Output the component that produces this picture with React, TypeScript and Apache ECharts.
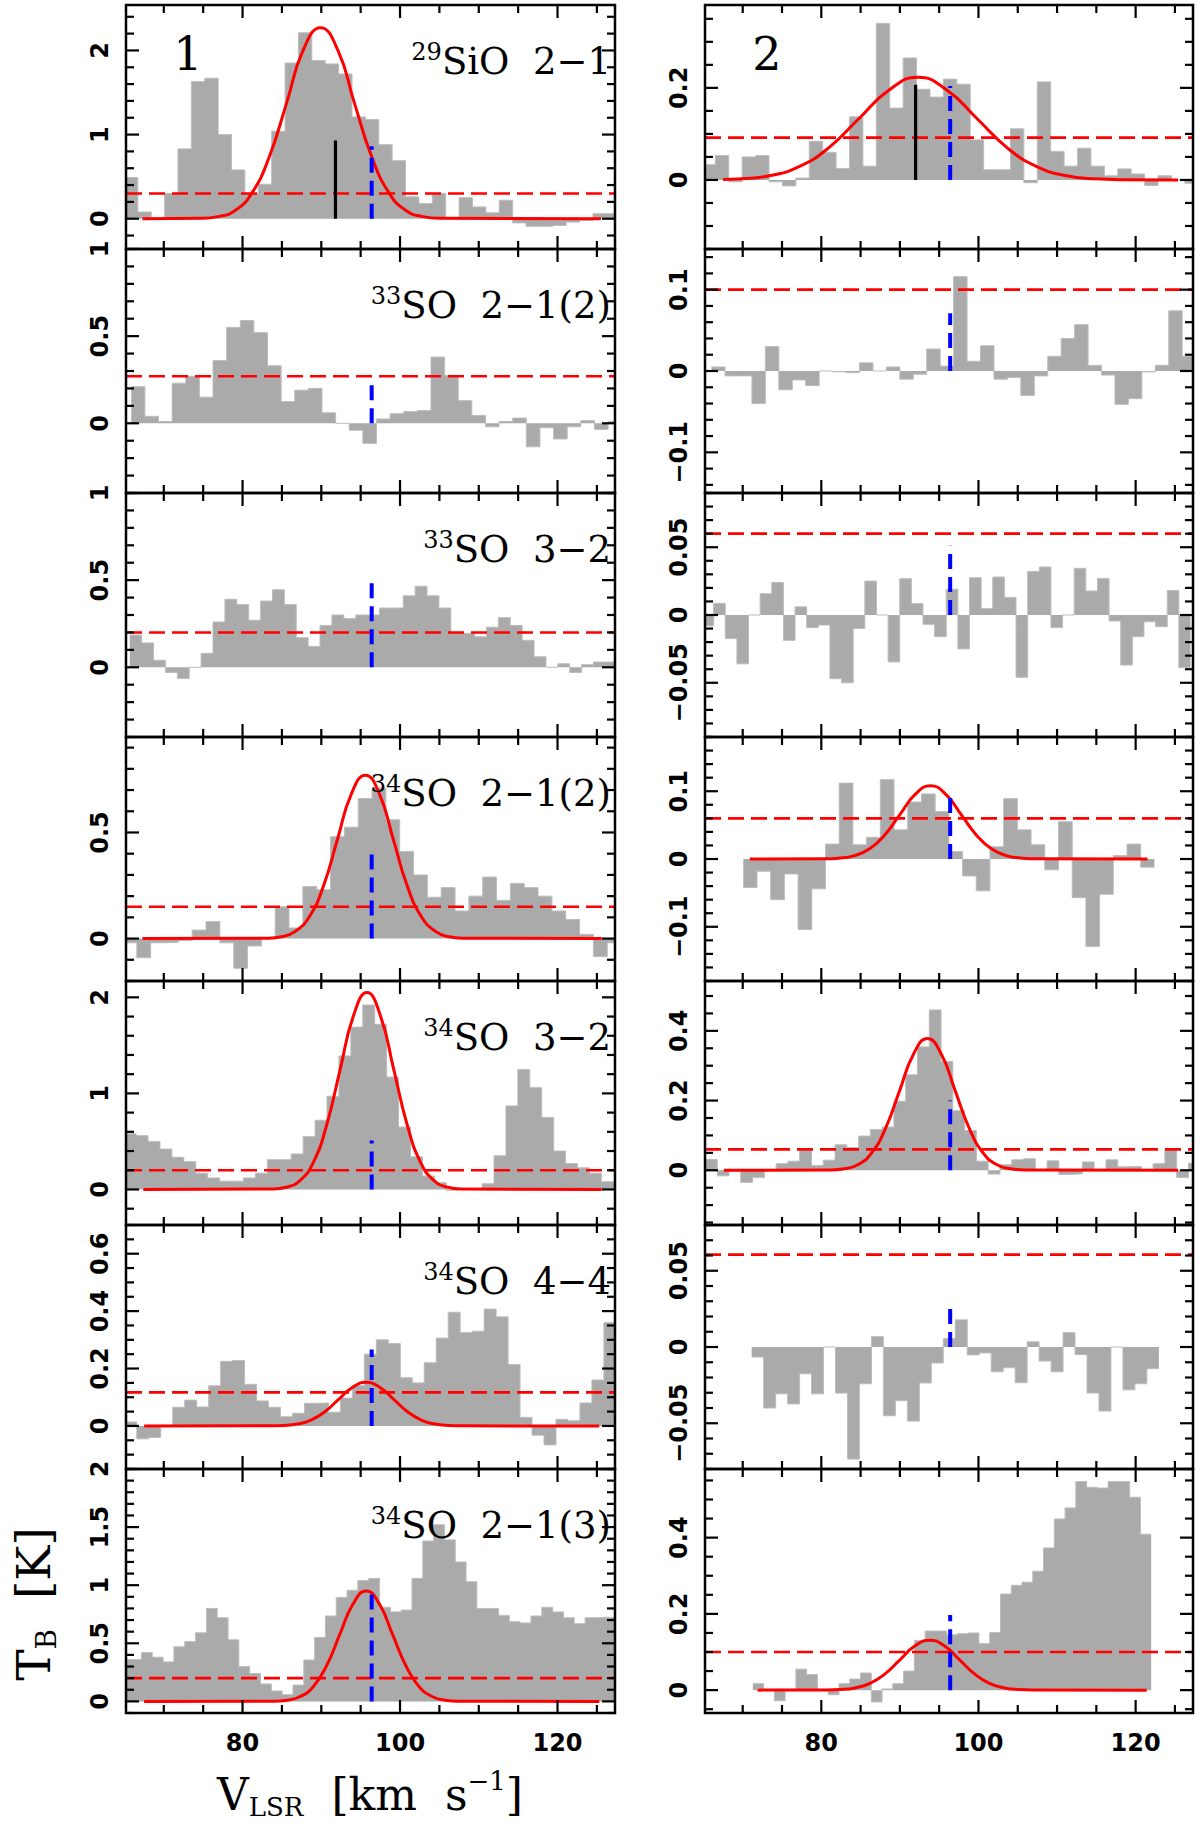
import { useEffect, useRef } from "react";
import * as echarts from "echarts";

// 速度轴（km/s），所有面板共用
const VEL_MIN = 65.2;
const VEL_MAX = 127.3;
const VEL_MAJOR = [80, 100, 120];
const VEL_MINOR = [70, 75, 85, 90, 95, 105, 110, 115, 125];
const V_SYS = 96.4;

// ---- source 1 (left column) ----
// chan = [first channel edge, channel width]
const s1SiO29Chan = [65.0, 1.7];
const s1SiO29Tb = [0.49, 0.08, 0.0, 0.3, 0.83, 1.63, 1.67, 1.0, 0.58, 0.3, 0.41, 1.04, 1.85, 2.21, 1.88, 1.84, 1.72, 1.21, 1.18, 0.88, 0.69, 0.26, 0.18, 0.3, 0.0, 0.25, 0.14, 0.07, 0.22, -0.05, -0.09, -0.09, -0.08, -0.04, -0.02, 0.06, 0.06];
const s1SiO29Fit = [[67.3, 0], [74.7, 0.005], [76.9, 0.025], [79.1, 0.1], [81.2, 0.307], [83.4, 0.737], [85.6, 1.377], [87.7, 2.003], [89.9, 2.27], [92.1, 2.003], [94.2, 1.377], [96.4, 0.737], [98.6, 0.307], [100.7, 0.1], [102.9, 0.025], [105.1, 0.005], [125.5, 0]];

const s1SO33aChan = [65.87, 1.73];
const s1SO33aTb = [0.21, 0.04, 0.01, 0.23, 0.27, 0.15, 0.36, 0.55, 0.59, 0.52, 0.33, 0.125, 0.19, 0.2, 0.06, 0.0, -0.04, -0.115, 0.025, 0.055, 0.067, 0.073, 0.38, 0.275, 0.13, 0.045, -0.02, 0.01, 0.03, -0.135, -0.025, -0.09, -0.02, 0.015, -0.035, 0.01];

const s1SO33bChan = [65.68, 1.51];
const s1SO33bTb = [0.185, 0.14, 0.04, -0.03, -0.065, 0.0, 0.08, 0.26, 0.39, 0.36, 0.27, 0.38, 0.445, 0.36, 0.17, 0.12, 0.24, 0.3, 0.28, 0.3, 0.3, 0.34, 0.34, 0.41, 0.465, 0.41, 0.34, 0.2, 0.195, 0.175, 0.23, 0.285, 0.24, 0.155, 0.06, 0.0, 0.02, -0.03, 0.015, 0.03, 0.03];

const s1SO34aChan = [64.82, 1.757];
const s1SO34aTb = [-0.02, -0.09, -0.02, -0.017, -0.01, 0.04, 0.08, -0.02, -0.14, -0.035, 0.0, 0.15, 0.05, 0.245, 0.23, 0.48, 0.525, 0.66, 0.71, 0.56, 0.41, 0.3, 0.195, 0.24, 0.13, 0.2, 0.29, 0.18, 0.26, 0.24, 0.2, 0.13, 0.09, 0.02, -0.085, -0.02];
const s1SO34aFit = [[67.3, 0], [83.2, 0.0017], [84.95, 0.0085], [86.7, 0.034], [88.5, 0.104], [90.3, 0.25], [92.05, 0.467], [93.8, 0.68], [95.6, 0.77], [97.4, 0.68], [99.15, 0.467], [100.9, 0.25], [102.7, 0.104], [104.5, 0.034], [106.25, 0.0085], [108.0, 0.0017], [125.6, 0]];

const s1SO34bChan = [64.97, 1.515];
const s1SO34bTb = [0.58, 0.56, 0.5, 0.42, 0.335, 0.29, 0.17, 0.12, 0.086, 0.086, 0.12, 0.17, 0.31, 0.31, 0.37, 0.55, 0.72, 0.97, 1.39, 1.69, 1.92, 1.72, 1.17, 0.65, 0.34, 0.14, 0.07, -0.01, 0.0, 0.0, 0.06, 0.35, 0.87, 1.25, 1.06, 0.75, 0.4, 0.27, 0.225, 0.17, 0.08, 0.08];
const s1SO34bFit = [[67.4, 0], [83.83, 0.0045], [85.54, 0.023], [87.25, 0.09], [88.96, 0.277], [90.67, 0.666], [92.38, 1.243], [94.09, 1.809], [95.8, 2.05], [97.51, 1.809], [99.22, 1.243], [100.93, 0.666], [102.64, 0.277], [104.35, 0.09], [106.06, 0.023], [107.77, 0.0045], [125.6, 0]];

const s1SO34cChan = [65.05, 1.521];
const s1SO34cTb = [0.014, -0.045, -0.04, 0.0, 0.065, 0.09, 0.066, 0.14, 0.225, 0.228, 0.145, 0.087, 0.065, 0.032, 0.044, 0.079, 0.08, 0.048, 0.097, 0.14, 0.25, 0.3, 0.287, 0.168, 0.15, 0.22, 0.306, 0.396, 0.325, 0.33, 0.407, 0.38, 0.214, 0.03, -0.032, -0.066, 0.023, 0.018, 0.08, 0.16, 0.36];
const s1SO34cFit = [[67.5, 0], [83.45, 0.0003], [85.2, 0.0017], [86.95, 0.0067], [88.7, 0.0206], [90.45, 0.0494], [92.2, 0.0922], [93.95, 0.134], [95.7, 0.152], [97.45, 0.134], [99.2, 0.0922], [100.95, 0.0494], [102.7, 0.0206], [104.45, 0.0067], [106.2, 0.0017], [107.95, 0.0003], [125.3, 0]];

const s1SO34dChan = [64.42, 1.374];
const s1SO34dTb = [0.36, 0.36, 0.42, 0.38, 0.34, 0.47, 0.515, 0.59, 0.8, 0.72, 0.53, 0.3, 0.24, 0.15, 0.09, 0.058, 0.14, 0.356, 0.55, 0.735, 0.895, 0.956, 1.04, 1.058, 0.81, 0.77, 0.786, 1.058, 1.38, 1.52, 1.39, 1.2, 1.03, 0.8, 0.8, 0.74, 0.685, 0.675, 0.735, 0.81, 0.77, 0.72, 0.668, 0.72, 0.725, 0.72];
const s1SO34dFit = [[67.5, 0], [83.98, 0.0021], [85.65, 0.0105], [87.33, 0.0417], [89.0, 0.1285], [90.68, 0.3085], [92.35, 0.576], [94.03, 0.838], [95.7, 0.95], [97.38, 0.838], [99.05, 0.576], [100.73, 0.3085], [102.4, 0.1285], [104.08, 0.0417], [105.75, 0.0105], [107.43, 0.0021], [125.3, 0]];

const s1Rms = [0.3, 0.27, 0.2, 0.15, 0.2, 0.117, 0.2];
const s1VsysTop = [0.86, 0.24, 0.5, 0.4, 0.51, 0.266, 0.93];
const s1Peak = [91.8, 0.93]; // black marker in panel 1

// ---- source 2 (right column) ----
const s2SiO29Chan = [64.81, 1.707];
const s2SiO29Tb = [0.033, 0.053, -0.004, 0.05, 0.053, -0.004, -0.013, 0.004, 0.084, 0.06, 0.025, 0.137, 0.03, 0.34, 0.156, 0.265, 0.197, 0.18, 0.219, 0.208, 0.087, 0.022, 0.022, 0.111, -0.006, 0.213, 0.062, 0.03, 0.069, 0.03, 0.009, 0.024, 0.013, -0.012, 0.009, 0.0, -0.007];
const s2SiO29Fit = [[67.5, 0.0009], [69.8, 0.0024], [73.55, 0.0097], [77.3, 0.0298], [81.05, 0.0714], [84.8, 0.1334], [88.55, 0.1942], [92.3, 0.223], [96.05, 0.1942], [99.8, 0.1334], [103.55, 0.0714], [107.3, 0.0298], [111.05, 0.0097], [114.8, 0.0024], [118.55, 0.0005], [125.4, 0]];

const s2SO33aChan = [66.04, 1.711];
const s2SO33aTb = [0.005, -0.006, -0.006, -0.04, 0.03, -0.023, -0.011, -0.018, 0.0, -0.001, -0.002, 0.01, 0.0, 0.005, -0.01, -0.004, 0.027, 0.006, 0.116, 0.012, 0.031, -0.01, -0.008, -0.03, -0.006, 0.018, 0.04, 0.057, 0.007, -0.005, -0.041, -0.034, -0.001, 0.007, 0.074, 0.018];

const s2SO33bChan = [64.82, 1.48];
const s2SO33bTb = [-0.008, 0.0086, -0.0174, -0.036, 0.0, 0.0157, 0.024, -0.0187, 0.006, -0.0093, -0.0074, -0.047, -0.05, -0.01, 0.025, 0.0, -0.0346, 0.0268, 0.0084, -0.0069, -0.016, 0.019, -0.025, 0.0275, 0.0047, 0.028, 0.013, -0.046, 0.032, 0.0354, -0.0093, 0.0, 0.0344, 0.0177, 0.027, -0.0044, -0.0369, -0.016, -0.005, -0.0086, 0.018, -0.0388];

const s2SO34aChan = [70.07, 1.744];
const s2SO34aTb = [-0.042, -0.018, -0.06, -0.022, -0.104, -0.044, 0.022, 0.112, 0.021, 0.032, 0.117, 0.043, 0.084, 0.096, 0.07, 0.011, -0.025, -0.047, 0.018, 0.089, 0.043, 0.021, -0.016, 0.055, -0.057, -0.129, -0.052, 0.005, 0.022, -0.012];
const s2SO34aFit = [[70.9, 0], [80.25, 0.0002], [82.2, 0.0012], [84.15, 0.0047], [86.1, 0.0146], [88.05, 0.0351], [90.0, 0.0655], [91.95, 0.0953], [93.9, 0.108], [95.85, 0.0953], [97.8, 0.0655], [99.75, 0.0351], [101.7, 0.0146], [103.65, 0.0047], [105.6, 0.0012], [107.55, 0.0002], [121.5, 0]];

const s2SO34bChan = [65.26, 1.499];
const s2SO34bTb = [0.031, -0.016, 0.0, -0.035, -0.021, 0.0, 0.019, 0.026, 0.057, 0.014, 0.029, 0.073, 0.065, 0.098, 0.117, 0.124, 0.198, 0.274, 0.354, 0.46, 0.312, 0.171, 0.114, 0.026, -0.011, 0.016, 0.03, 0.033, 0.0, 0.027, -0.012, -0.01, 0.024, 0.0, 0.03, 0.01, 0.011, 0.0, 0.019, 0.059, -0.021, 0.02];
const s2SO34bFit = [[67.6, 0], [81.18, 0.0008], [82.94, 0.0042], [84.7, 0.0166], [86.46, 0.0511], [88.22, 0.1227], [89.98, 0.2293], [91.74, 0.3336], [93.5, 0.378], [95.26, 0.3336], [97.02, 0.2293], [98.78, 0.1227], [100.54, 0.0511], [102.3, 0.0166], [104.06, 0.0042], [105.82, 0.0008], [125.4, 0]];

const s2SO34cChan = [71.14, 1.524];
const s2SO34cTb = [-0.0066, -0.04, -0.0307, -0.0373, -0.0176, -0.0307, 0.0, -0.0302, -0.0735, -0.0241, 0.0068, -0.0451, -0.0352, -0.0486, -0.0236, -0.0105, 0.0055, 0.0178, -0.0052, -0.0039, -0.0163, -0.0136, -0.0234, 0.0034, -0.0092, -0.0163, 0.0094, -0.005, -0.0302, -0.042, 0.0, -0.0281, -0.0241, -0.0142];

const s2SO34dChan = [71.29, 1.37];
const s2SO34dTb = [0.017, 0.0, -0.028, 0.0, 0.055, 0.041, 0.0, -0.012, 0.017, 0.029, 0.045, -0.031, 0.003, 0.017, 0.05, 0.13, 0.155, 0.155, 0.145, 0.148, 0.15, 0.122, 0.151, 0.252, 0.275, 0.283, 0.312, 0.373, 0.449, 0.478, 0.547, 0.532, 0.53, 0.547, 0.547, 0.506, 0.409];
const s2SO34dFit = [[71.9, 0], [80.5, 0.0003], [82.4, 0.0015], [84.3, 0.0058], [86.2, 0.0177], [88.1, 0.0425], [90.0, 0.0795], [91.9, 0.1156], [93.8, 0.131], [95.7, 0.1156], [97.6, 0.0795], [99.5, 0.0425], [101.4, 0.0177], [103.3, 0.0058], [105.2, 0.0015], [107.1, 0.0003], [121.4, 0]];

const s2Rms = [0.092, 0.1, 0.06, 0.06, 0.06, 0.0606, 0.1];
const s2VsysTop = [0.204, 0.071, 0.051, 0.1, 0.2, 0.03, 0.197];
const s2Peak = [92.0, 0.207];

const LINE_ISO = ["29", "33", "33", "34", "34", "34", "34"];
const LINE_NAME = ["SiO\u00a0\u00a02\u22121", "SO\u00a0\u00a02\u22121(2)", "SO\u00a0\u00a03\u22122", "SO\u00a0\u00a02\u22121(2)", "SO\u00a0\u00a03\u22122", "SO\u00a0\u00a04\u22124", "SO\u00a0\u00a02\u22121(3)"];

// y axis: [min, max, major step, minor step]
const Y_AXES_1 = [[-0.36, 2.54, 1, 0.2], [-0.4, 1.0, 0.5, 0.1], [-0.4, 1.0, 0.5, 0.1], [-0.2, 0.95, 0.5, 0.1], [-0.37, 2.17, 1, 0.2], [-0.15, 0.7, 0.2, 0.05], [-0.1, 2.0, 0.5, 0.1]];
const Y_AXES_2 = [[-0.15, 0.38, 0.2, 0.05], [-0.15, 0.15, 0.1, 0.02], [-0.09, 0.09, 0.05, 0.01], [-0.18, 0.18, 0.1, 0.02], [-0.157, 0.543, 0.2, 0.05], [-0.08, 0.08, 0.05, 0.01], [-0.06, 0.58, 0.2, 0.05]];

type Panel = {
  col: number;
  row: number;
  chan: number[];
  tb: number[];
  fit?: number[][];
  rms: number;
  vsysTop: number;
  peak?: number[];
  y: number[];
};

const S1 = [
  [s1SiO29Chan, s1SiO29Tb, s1SiO29Fit],
  [s1SO33aChan, s1SO33aTb, undefined],
  [s1SO33bChan, s1SO33bTb, undefined],
  [s1SO34aChan, s1SO34aTb, s1SO34aFit],
  [s1SO34bChan, s1SO34bTb, s1SO34bFit],
  [s1SO34cChan, s1SO34cTb, s1SO34cFit],
  [s1SO34dChan, s1SO34dTb, s1SO34dFit],
];
const S2 = [
  [s2SiO29Chan, s2SiO29Tb, s2SiO29Fit],
  [s2SO33aChan, s2SO33aTb, undefined],
  [s2SO33bChan, s2SO33bTb, undefined],
  [s2SO34aChan, s2SO34aTb, s2SO34aFit],
  [s2SO34bChan, s2SO34bTb, s2SO34bFit],
  [s2SO34cChan, s2SO34cTb, undefined],
  [s2SO34dChan, s2SO34dTb, s2SO34dFit],
];

const PANELS: Panel[] = [
  ...S1.map((s, i) => ({ col: 0, row: i, chan: s[0] as number[], tb: s[1] as number[], fit: s[2] as number[][] | undefined, rms: s1Rms[i], vsysTop: s1VsysTop[i], peak: i === 0 ? s1Peak : undefined, y: Y_AXES_1[i] })),
  ...S2.map((s, i) => ({ col: 1, row: i, chan: s[0] as number[], tb: s[1] as number[], fit: s[2] as number[][] | undefined, rms: s2Rms[i], vsysTop: s2VsysTop[i], peak: i === 0 ? s2Peak : undefined, y: Y_AXES_2[i] })),
];

// layout
const COL_X = [126, 705];
const COL_W = [489, 488];
const ROW_TOP = 5;
const ROW_H = 244;
const TICK_FONT = "'DejaVu Sans', sans-serif";
const TEXT_FONT = "'DejaVu Serif', serif";
const GREY = "#aaaaaa";
const MAJOR_LEN = 13;
const MINOR_LEN = 8;

function stepData(chan: number[], tb: number[]) {
  const [x0, dv] = chan;
  const pts = tb.map((v, i) => [x0 + i * dv, v]);
  pts.push([x0 + tb.length * dv, tb[tb.length - 1]]);
  return pts;
}

function tickList(min: number, max: number, step: number) {
  const out: number[] = [];
  for (let k = Math.ceil(min / step - 1e-9); k * step <= max + 1e-9; k++) out.push(+(k * step).toFixed(4));
  return out;
}

const fmt = (v: number | string) => {
  const r = Math.round(Number(v) * 1e4) / 1e4;
  return r < 0 ? "\u2212" + String(-r) : String(r);
};

// inward ticks on all four sides, placed through the panel's own axes
function tickSeries(g: number, yMin: number, yMax: number, yMaj: number[], yMnr: number[]) {
  const data = [
    ...VEL_MAJOR.map((v) => [v, 0]),
    ...VEL_MINOR.map((v) => [v, 1]),
    ...yMaj.map((v) => [v, 2]),
    ...yMnr.map((v) => [v, 3]),
  ];
  const style = { stroke: "#000", lineWidth: 2.2 };
  return {
    type: "custom",
    xAxisIndex: g,
    yAxisIndex: g,
    silent: true,
    clip: false,
    z: 20,
    data,
    renderItem: (_p: unknown, api: any) => {
      const v = api.value(0) as number;
      const kind = api.value(1) as number;
      const len = kind % 2 === 0 ? MAJOR_LEN : MINOR_LEN;
      if (kind < 2) {
        const b = api.coord([v, yMin]);
        const t = api.coord([v, yMax]);
        return {
          type: "group",
          children: [
            { type: "line", shape: { x1: b[0], y1: b[1], x2: b[0], y2: b[1] - len }, style },
            { type: "line", shape: { x1: t[0], y1: t[1], x2: t[0], y2: t[1] + len }, style },
          ],
        };
      }
      const l = api.coord([VEL_MIN, v]);
      const r = api.coord([VEL_MAX, v]);
      return {
        type: "group",
        children: [
          { type: "line", shape: { x1: l[0], y1: l[1], x2: l[0] + len, y2: l[1] }, style },
          { type: "line", shape: { x1: r[0], y1: r[1], x2: r[0] - len, y2: r[1] }, style },
        ],
      };
    },
  };
}

function buildOption() {
  const grid: object[] = [];
  const xAxis: object[] = [];
  const yAxis: object[] = [];
  const series: object[] = [];
  const graphic: object[] = [];

  PANELS.forEach((p, g) => {
    const left = COL_X[p.col];
    const width = COL_W[p.col];
    const top = ROW_TOP + p.row * ROW_H;
    grid.push({ left, top, width, height: ROW_H });

    xAxis.push({
      type: "value",
      gridIndex: g,
      position: "bottom",
      min: VEL_MIN,
      max: VEL_MAX,
      axisLine: { show: false, onZero: false },
      axisTick: { show: false },
      splitLine: { show: false },
      axisLabel:
        p.row === 6
          ? { show: true, customValues: VEL_MAJOR, margin: 18, fontSize: 24, fontWeight: "bold", fontFamily: TICK_FONT, color: "#000" }
          : { show: false },
    });

    const [ymin, ymax, ymaj, ymnr] = p.y;
    const maj = tickList(ymin, ymax, ymaj);
    const mnr = tickList(ymin, ymax, ymnr).filter((v) => !maj.some((m) => Math.abs(m - v) < 1e-6));
    yAxis.push({
      type: "value",
      gridIndex: g,
      position: "left",
      min: ymin,
      max: ymax,
      axisLine: { show: false, onZero: false },
      axisTick: { show: false },
      splitLine: { show: false },
      axisLabel: { show: true, customValues: maj, formatter: fmt, rotate: 90, margin: 14, fontSize: 24, fontWeight: "bold", fontFamily: TICK_FONT, color: "#000" },
    });

    const ax = { xAxisIndex: g, yAxisIndex: g, silent: true, showSymbol: false, symbol: "none" };
    series.push({
      ...ax,
      type: "line",
      step: "end",
      data: stepData(p.chan, p.tb),
      lineStyle: { color: "#bdbdbd", width: 1 },
      areaStyle: { color: GREY, opacity: 1 },
      z: 2,
    });
    series.push({
      ...ax,
      type: "line",
      data: [[VEL_MIN, p.rms], [VEL_MAX, p.rms]],
      lineStyle: { color: "#ff0000", width: 2.6, type: [16, 7] },
      z: 3,
    });
    if (p.fit) {
      series.push({
        ...ax,
        type: "line",
        data: p.fit,
        smooth: 0.5,
        lineStyle: { color: "#ff0000", width: 3 },
        z: 4,
      });
    }
    if (p.peak) {
      series.push({
        ...ax,
        type: "line",
        data: [[p.peak[0], 0], [p.peak[0], p.peak[1]]],
        lineStyle: { color: "#000", width: 3.2 },
        z: 5,
      });
    }
    series.push({
      ...ax,
      type: "line",
      data: [[V_SYS, 0], [V_SYS, p.vsysTop]],
      lineStyle: { color: "#0000ff", width: 4, type: [15, 8] },
      z: 6,
    });
    series.push(tickSeries(g, ymin, ymax, maj, mnr));

    graphic.push({
      type: "rect",
      silent: true,
      z: 100,
      shape: { x: left, y: top, width, height: ROW_H },
      style: { fill: "none", stroke: "#000", lineWidth: 2.5 },
    });

    if (p.col === 0) {
      graphic.push({
        type: "text",
        silent: true,
        z: 101,
        x: left + width - 4,
        y: top + 56,
        style: {
          text: `{s|${LINE_ISO[p.row]}}{m|${LINE_NAME[p.row]}}`,
          fontSize: 36,
          fontFamily: TEXT_FONT,
          fill: "#000",
          align: "right",
          verticalAlign: "middle",
          textAlign: "right",
          textVerticalAlign: "middle",
          rich: {
            s: { fontSize: 24, fontFamily: TEXT_FONT, verticalAlign: "top", lineHeight: 22, fill: "#000" },
            m: { fontSize: 37, fontFamily: TEXT_FONT, lineHeight: 42, fill: "#000" },
          },
        },
      });
    }
  });

  // panel numbers
  [["1", 188], ["2", 767]].forEach(([t, x]) => {
    graphic.push({
      type: "text",
      silent: true,
      z: 101,
      x,
      y: 54,
      style: { text: t, fontSize: 46, fontFamily: TEXT_FONT, fill: "#000", align: "center", verticalAlign: "middle", textAlign: "center", textVerticalAlign: "middle" },
    });
  });

  // axis titles
  graphic.push({
    type: "text",
    silent: true,
    z: 101,
    x: 370,
    y: 1794,
    style: {
      text: "{m|V}{b|LSR}{m|\u00a0\u00a0[km\u00a0\u00a0s}{t|\u22121}{m|]}",
      fontSize: 44,
      fontFamily: TEXT_FONT,
      fill: "#000",
      align: "center",
      verticalAlign: "middle",
      textAlign: "center",
      textVerticalAlign: "middle",
      rich: {
        m: { fontSize: 44, fontFamily: TEXT_FONT, lineHeight: 52, fill: "#000" },
        b: { fontSize: 26, fontFamily: TEXT_FONT, lineHeight: 22, verticalAlign: "bottom", fill: "#000" },
        t: { fontSize: 26, fontFamily: TEXT_FONT, lineHeight: 22, verticalAlign: "top", fill: "#000" },
      },
    },
  });
  graphic.push({
    type: "text",
    silent: true,
    z: 101,
    x: 33,
    y: 1604,
    rotation: Math.PI / 2,
    style: {
      text: "{m|T}{b|B}{m|\u00a0\u00a0[K]}",
      fontSize: 47,
      fontFamily: TEXT_FONT,
      fill: "#000",
      align: "center",
      verticalAlign: "middle",
      textAlign: "center",
      textVerticalAlign: "middle",
      rich: {
        m: { fontSize: 47, fontFamily: TEXT_FONT, lineHeight: 54, fill: "#000" },
        b: { fontSize: 28, fontFamily: TEXT_FONT, lineHeight: 23, verticalAlign: "bottom", fill: "#000" },
      },
    },
  });

  return {
    backgroundColor: "#ffffff",
    animation: false,
    grid,
    xAxis,
    yAxis,
    series,
    graphic,
  };
}

export default function App() {
  const ref = useRef<HTMLDivElement>(null);
  useEffect(() => {
    document.body.style.margin = "0";
    if (!ref.current) return;
    const chart = echarts.init(ref.current, undefined, { renderer: "svg" });
    chart.setOption(buildOption());
    return () => chart.dispose();
  }, []);
  return <div ref={ref} style={{ width: 1200, height: 1831 }} />;
}
